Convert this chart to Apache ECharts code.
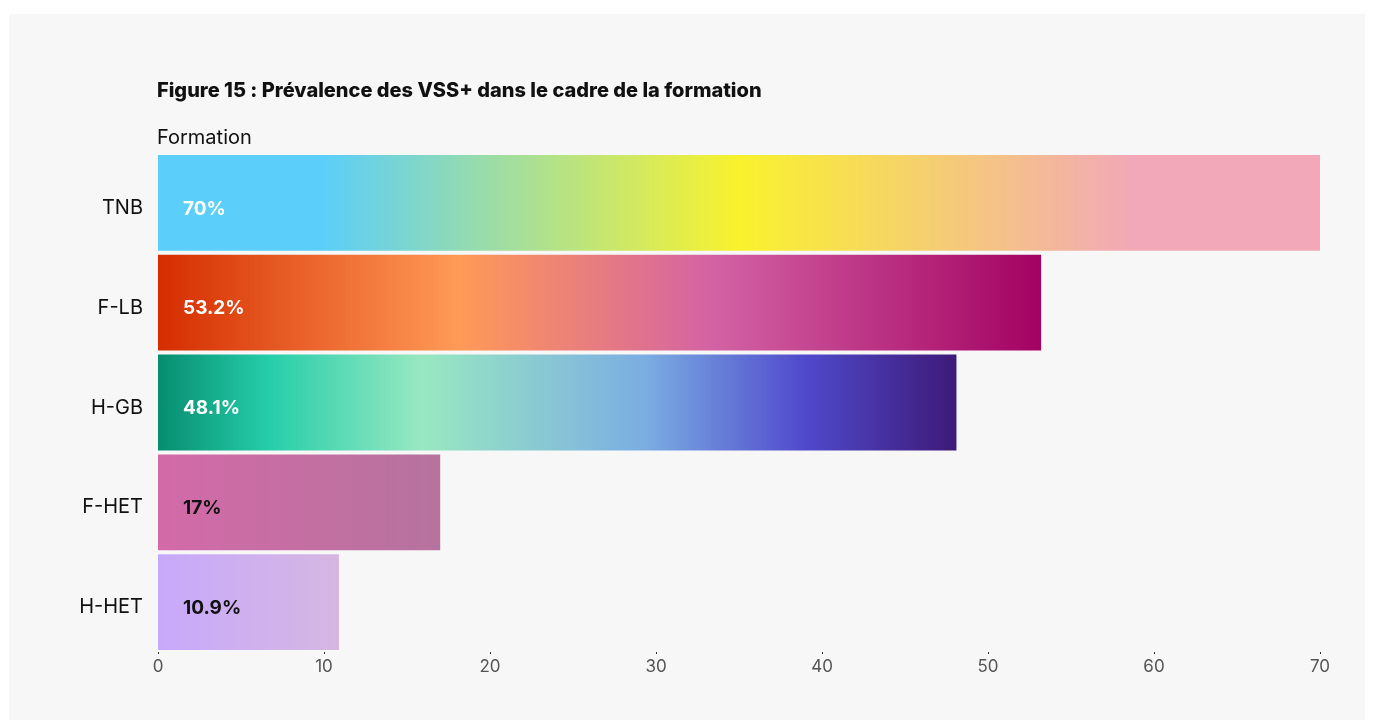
<!DOCTYPE html>
<html>
<head>
<meta charset="utf-8">
<script src="https://cdn.jsdelivr.net/npm/echarts@6/dist/echarts.min.js"></script>
<style>
html,body{margin:0;padding:0;background:#ffffff;}
#chart{width:1374px;height:720px;}
</style>
</head>
<body>
<div id="chart"></div>
<script>
const categories = ['TNB', 'F-LB', 'H-GB', 'F-HET', 'H-HET'];
const values = [70, 53.2, 48.1, 17, 10.9];
const valueLabels = ['70%', '53.2%', '48.1%', '17%', '10.9%'];
const labelColors = ['#ffffff', '#ffffff', '#ffffff', '#111111', '#111111'];
const xTicks = [0, 10, 20, 30, 40, 50, 60, 70];
const gradientStops = [
  [[0, '#5bcefa'], [0.14, '#5bcefa'], [0.5, '#f9f22d'], [0.84, '#f2a8b8'], [1, '#f2a8b8']],
  [[0, '#d52d00'], [0.34, '#ff9a56'], [0.63, '#d362a4'], [1, '#a30262']],
  [[0, '#078d70'], [0.14, '#26ceaa'], [0.33, '#98e8c1'], [0.61, '#7bade2'], [0.81, '#5049cc'], [1, '#3d1a78']],
  [[0, '#d36aa8'], [1, '#b6739e']],
  [[0, '#c7a9fb'], [1, '#d6b7e2']]
];

const chart = echarts.init(document.getElementById('chart'), null, {renderer: 'canvas'});
const FONT = 'Inter, "Noto Sans", sans-serif';

const data = values.map((v, i) => ({
  value: v,
  itemStyle: {
    color: new echarts.graphic.LinearGradient(0, 0, 1, 0,
      gradientStops[i].map(s => ({offset: s[0], color: s[1]})))
  },
  label: {color: labelColors[i]}
}));

chart.setOption({
  backgroundColor: '#ffffff',
  animation: false,
  graphic: [{
    type: 'rect', left: 9, top: 14, z: -10, silent: true,
    shape: {width: 1356, height: 706},
    style: {fill: '#f7f7f7'}
  }],
  title: [{
    text: 'Figure 15 : Prévalence des VSS+ dans le cadre de la formation',
    left: 152, top: 76,
    textStyle: {fontFamily: FONT, fontSize: 20, fontWeight: 800, color: '#111111'}
  }, {
    text: 'Formation',
    left: 152, top: 123,
    textStyle: {fontFamily: FONT, fontSize: 20, fontWeight: 'normal', color: '#111111'}
  }],
  grid: {left: 158, right: 54, top: 153, bottom: 68, containLabel: false},
  xAxis: {
    type: 'value', min: 0, max: 70, interval: 10,
    axisLine: {show: false},
    axisTick: {show: true, length: 2, lineStyle: {color: '#333333'}},
    splitLine: {show: false},
    axisLabel: {
      fontFamily: FONT, fontSize: 17, color: '#555555', margin: 6,
      formatter: v => xTicks.includes(v) ? String(v) : ''
    }
  },
  yAxis: {
    type: 'category', data: categories, inverse: true,
    axisLine: {show: false}, axisTick: {show: false},
    axisLabel: {
      margin: 15,
      formatter: v => '{a|' + v + '}',
      rich: {a: {fontFamily: FONT, fontSize: 20, color: '#111111', padding: [10, 0, 0, 0]}}
    }
  },
  series: [{
    type: 'bar',
    data: data,
    barCategoryGap: '4%',
    label: {
      show: true, position: 'insideLeft', distance: 25, offset: [0, 6],
      fontFamily: FONT, fontSize: 19, fontWeight: 'bold',
      formatter: p => valueLabels[p.dataIndex]
    }
  }]
});
</script>
</body>
</html>
